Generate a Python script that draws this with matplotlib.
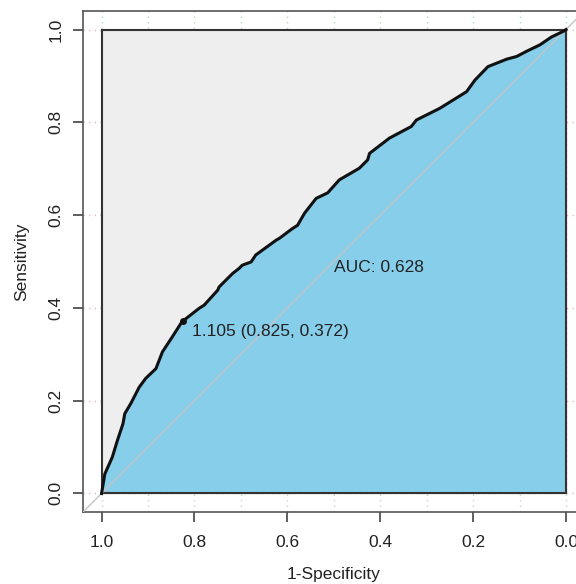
"""
ROC-кривая в стиле pROC: полигон AUC, максимальный полигон, порог.
"""

import numpy as np
import matplotlib
matplotlib.use('Agg')
import matplotlib.pyplot as plt

plt.rcParams['font.family'] = ['Liberation Sans', 'DejaVu Sans']

# ── Данные ──────────────────────────────────────────────────────────
specificity = [1.0, 0.993, 0.977, 0.966, 0.954, 0.950, 0.937, 0.919, 0.905,
               0.883, 0.869, 0.848, 0.827, 0.804, 0.790, 0.779, 0.750, 0.747,
               0.718, 0.704, 0.697, 0.678, 0.668, 0.624, 0.617, 0.589, 0.578,
               0.563, 0.538, 0.513, 0.488, 0.445, 0.427, 0.423, 0.380, 0.333,
               0.322, 0.272, 0.214, 0.196, 0.168, 0.128, 0.106, 0.085, 0.056,
               0.031, 0.006, 0.0]
sensitivity = [0.0, 0.042, 0.078, 0.114, 0.150, 0.172, 0.194, 0.229, 0.248,
               0.269, 0.305, 0.337, 0.370, 0.388, 0.399, 0.406, 0.438, 0.445,
               0.474, 0.485, 0.492, 0.499, 0.514, 0.546, 0.550, 0.571, 0.578,
               0.604, 0.636, 0.648, 0.676, 0.701, 0.719, 0.733, 0.766, 0.791,
               0.805, 0.830, 0.866, 0.891, 0.920, 0.936, 0.942, 0.953, 0.967,
               0.984, 0.996, 1.0]

auc_value = 0.628
best_threshold = 1.105
best_spec = 0.825
best_sens = 0.372

xtick_values = [1.0, 0.8, 0.6, 0.4, 0.2, 0.0]
ytick_values = [0.0, 0.2, 0.4, 0.6, 0.8, 1.0]
xtick_labels = ['1.0', '0.8', '0.6', '0.4', '0.2', '0.0']
ytick_labels = ['0.0', '0.2', '0.4', '0.6', '0.8', '1.0']

# ── Рисунок ─────────────────────────────────────────────────────────
fig = plt.figure(figsize=(5.76, 5.84), dpi=100)
ax = fig.add_axes([0.1441, 0.1233, 0.8707, 0.8579])
ax.set_xlim(1.04, -0.04)
ax.set_ylim(-0.04, 1.04)

# сетка (видна только на полях)
for gx in np.arange(0, 1.01, 0.1):
    ax.axvline(gx, color='#b9dcb9', linestyle=(0, (1, 3)), linewidth=1, zorder=0)
for gy in np.arange(0, 1.01, 0.2):
    ax.axhline(gy, color='#e2bcbc', linestyle=(0, (1, 3)), linewidth=1, zorder=0)

# максимальный полигон AUC
ax.fill([1, 0, 0, 1], [0, 0, 1, 1], facecolor='#eeeeee',
        edgecolor='#333333', linewidth=1.5, zorder=1)

# полигон AUC
spec = np.array(specificity)
sens = np.array(sensitivity)
ax.fill(np.r_[spec, 0, 1], np.r_[sens, 0, 0], facecolor='#87ceeb',
        edgecolor='none', zorder=2)
ax.plot([1, 0, 0], [0, 0, 1], color='#333333', linewidth=1.5, zorder=2.5)

# диагональ
ax.plot([1.1, -0.1], [-0.1, 1.1], color='#c4c4c4', linewidth=1, zorder=3)

# ROC-кривая
ax.plot(spec, sens, color='#111111', linewidth=2.2, zorder=4)

# порог
ax.plot(best_spec, best_sens, 'o', color='#111111', markersize=4, zorder=5)
ax.annotate(f'{best_threshold:.3f} ({best_spec:.3f}, {best_sens:.3f})',
            xy=(best_spec, best_sens), xytext=(6.5, -7.5),
            textcoords='offset points', ha='left', va='center',
            fontsize=12.5, color='#222222', zorder=6)

ax.text(0.5, 0.486, f'AUC: {auc_value:.3f}', ha='left', va='center',
        fontsize=12.5, color='#222222', zorder=6)

# оси
ax.set_xticks(xtick_values)
ax.set_xticklabels(xtick_labels)
ax.set_yticks(ytick_values)
ax.set_yticklabels(ytick_labels, rotation=90, va='center')
ax.tick_params(axis='both', direction='out', length=7.2, width=1.1,
               color='#333333', labelsize=12.5, labelcolor='#222222')
ax.tick_params(axis='x', pad=9.5)
ax.tick_params(axis='y', pad=7)

for sp in ax.spines.values():
    sp.set_color('#555555')
    sp.set_linewidth(1.2)

ax.set_xlabel('1-Specificity', fontsize=12.5, color='#222222')
ax.set_ylabel('Sensitivity', fontsize=12.5, color='#222222')
ax.xaxis.set_label_coords(0.5, -0.110)
ax.yaxis.set_label_coords(-0.108, 0.5)

fig.savefig('out.png', dpi=100)
